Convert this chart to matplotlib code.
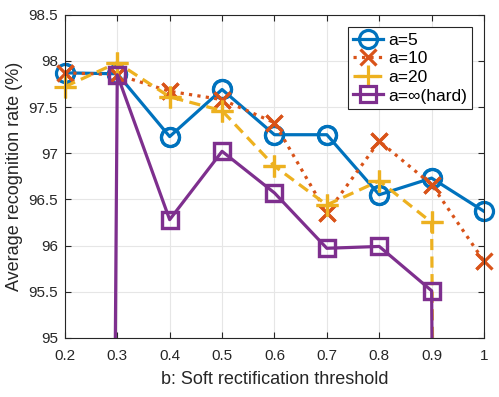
import numpy as np
import matplotlib
matplotlib.use('Agg')
import matplotlib.pyplot as plt

plt.rcParams['font.family'] = ['Liberation Sans', 'DejaVu Sans']

# 데이터 (b 임계값별 평균 인식률)
b = [0.2, 0.3, 0.4, 0.5, 0.6, 0.7, 0.8, 0.9, 1.0]
a5 = [97.87, 97.86, 97.18, 97.69, 97.20, 97.20, 96.55, 96.73, 96.37]
a10 = [97.87, 97.85, 97.67, 97.58, 97.33, 96.35, 97.13, 96.66, 95.83]
a20 = [97.72, 97.98, 97.61, 97.46, 96.86, 96.44, 96.70, 96.25, 20.0]
a_hard = [20.0, 97.85, 96.28, 97.02, 96.57, 95.97, 95.99, 95.51, 20.0]

series = [
    (a5, 'a=5', '#0072BD', '-', 'o', 13),
    (a10, 'a=10', '#D95319', ':', 'x', 11),
    (a20, 'a=20', '#EDB120', (0, (3.5, 2)), '+', 16),
    (a_hard, 'a=∞(hard)', '#7E2F8E', '-', 's', 11.5),
]

fig = plt.figure(figsize=(4.99, 3.97), dpi=100)
ax = fig.add_axes([0.130, 0.149, 0.840, 0.814])

ymin, ymax = 95, 98.5
handles = []
for vals, label, color, ls, mk, ms in series:
    h, = ax.plot(b, vals, linestyle=ls, marker=mk, color=color, label=label,
                 linewidth=2.3, markersize=ms, markerfacecolor='none',
                 markeredgewidth=2.3)
    handles.append(h)
    # 축 경계의 마커가 잘리지 않도록 범위 안의 점만 다시 그림
    bx = [x for x, v in zip(b, vals) if ymin <= v <= ymax]
    bv = [v for v in vals if ymin <= v <= ymax]
    ax.plot(bx, bv, linestyle='none', marker=mk, color=color,
            markersize=ms, markerfacecolor='none', markeredgewidth=2.3,
            clip_on=False)

ax.set_xlim(0.2, 1.0)
ax.set_ylim(ymin, ymax)
ax.set_xticks(b)
ax.set_xticklabels(['0.2', '0.3', '0.4', '0.5', '0.6', '0.7', '0.8', '0.9', '1'])
ax.set_yticks([95, 95.5, 96, 96.5, 97, 97.5, 98, 98.5])
ax.set_yticklabels(['95', '95.5', '96', '96.5', '97', '97.5', '98', '98.5'])
ax.tick_params(direction='in', top=True, right=True, labelsize=11,
               color='#262626', labelcolor='#262626', length=4)
ax.tick_params(axis='x', pad=8)
ax.tick_params(axis='y', pad=5)
ax.grid(True, color='#e6e6e6', linewidth=0.8)
ax.set_axisbelow(True)
for sp in ax.spines.values():
    sp.set_color('#262626')
    sp.set_linewidth(0.8)

ax.set_xlabel('b: Soft rectification threshold', fontsize=13, color='#262626',
              labelpad=6)
ax.set_ylabel('Average recognition rate (%)', fontsize=13, color='#262626')

leg = ax.legend(handles=handles, loc='upper right', bbox_to_anchor=(0.971, 0.961),
                borderaxespad=0, fontsize=12.5, handlelength=1.7,
                handletextpad=0.3, labelspacing=0.2, borderpad=0.3,
                fancybox=False, framealpha=1)
leg.get_frame().set_edgecolor('#262626')
leg.get_frame().set_linewidth(0.8)

plt.savefig('out.png', dpi=100)
